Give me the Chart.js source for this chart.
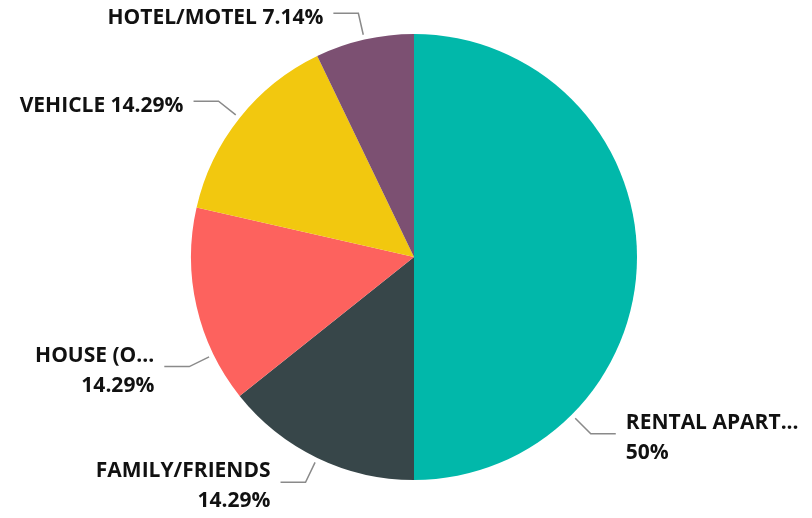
<!DOCTYPE html>
<html>
<head>
<meta charset="utf-8">
<script src="https://cdn.jsdelivr.net/npm/chart.js@4"></script>
<style>
  html, body { margin: 0; padding: 0; background: #fff; }
  #wrap { width: 812px; height: 518px; }
</style>
</head>
<body>
<div id="wrap"><canvas id="myChart" width="812" height="518"></canvas></div>
<script>
var categories = ["RENTAL APART...", "FAMILY/FRIENDS", "HOUSE (O...", "VEHICLE", "HOTEL/MOTEL"];
var counts = [7, 2, 2, 2, 1];
var sliceColors = ["#01B8AA", "#374649", "#FD625E", "#F2C80F", "#7C5072"];

// labels pushed along the arc where the slice middle is not used
var labelAngles = [45, null, 154, null, null];

function pct(v) {
    var total = counts.reduce(function (a, b) { return a + b; }, 0);
    return (Math.round(v / total * 10000) / 100) + "%";
}

var leaderLabels = {
    id: 'leaderLabels',
    afterDatasetsDraw: function (chart, args, opts) {
        var ctx = chart.ctx;
        var meta = chart.getDatasetMeta(0);
        ctx.save();
        ctx.font = opts.font;
        ctx.textBaseline = 'middle';
        meta.data.forEach(function (arc, i) {
            var p = arc.getProps(['x', 'y', 'startAngle', 'endAngle', 'outerRadius'], true);
            var a = (p.startAngle + p.endAngle) / 2;
            if (opts.angles[i] != null) a = opts.angles[i] * Math.PI / 180;
            var cos = Math.cos(a), sin = Math.sin(a);
            var x0 = p.x + cos * (p.outerRadius + 5), y0 = p.y + sin * (p.outerRadius + 5);
            var x1 = p.x + cos * (p.outerRadius + 27), y1 = p.y + sin * (p.outerRadius + 27);
            var right = cos >= 0;
            var x2 = x1 + (right ? 25 : -25);

            ctx.strokeStyle = '#8a8a8a';
            ctx.lineWidth = 1.5;
            ctx.beginPath();
            ctx.moveTo(x0, y0);
            ctx.lineTo(x1, y1);
            ctx.lineTo(x2, y1);
            ctx.stroke();

            var tx = x2 + (right ? 10 : -10);
            ctx.textAlign = right ? 'left' : 'right';
            ctx.fillStyle = '#111';
            var full = categories[i] + ' ' + pct(counts[i]);
            var room = Math.min(opts.maxWidth, right ? chart.width - tx : tx);
            if (ctx.measureText(full).width <= room) {
                ctx.fillText(full, tx, y1 + 5);
            } else {
                ctx.fillText(categories[i], tx, y1 - 11);
                ctx.fillText(pct(counts[i]), tx, y1 + 19);
            }
        });
        ctx.restore();
    }
};

var ctx = document.getElementById("myChart").getContext('2d');
var myChart = new Chart(ctx, {
    type: 'pie',
    data: {
        labels: categories,
        datasets: [{
            data: counts,
            backgroundColor: sliceColors,
            borderWidth: 0
        }]
    },
    options: {
        responsive: false,
        animation: false,
        events: [],
        layout: {
            padding: { top: 34, bottom: 38, left: 100, right: 84 }
        },
        plugins: {
            legend: { display: false },
            tooltip: { enabled: false },
            leaderLabels: {
                font: "bold 21px 'Open Sans'",
                maxWidth: 240,
                angles: labelAngles
            }
        }
    },
    plugins: [leaderLabels]
});
</script>
</body>
</html>
